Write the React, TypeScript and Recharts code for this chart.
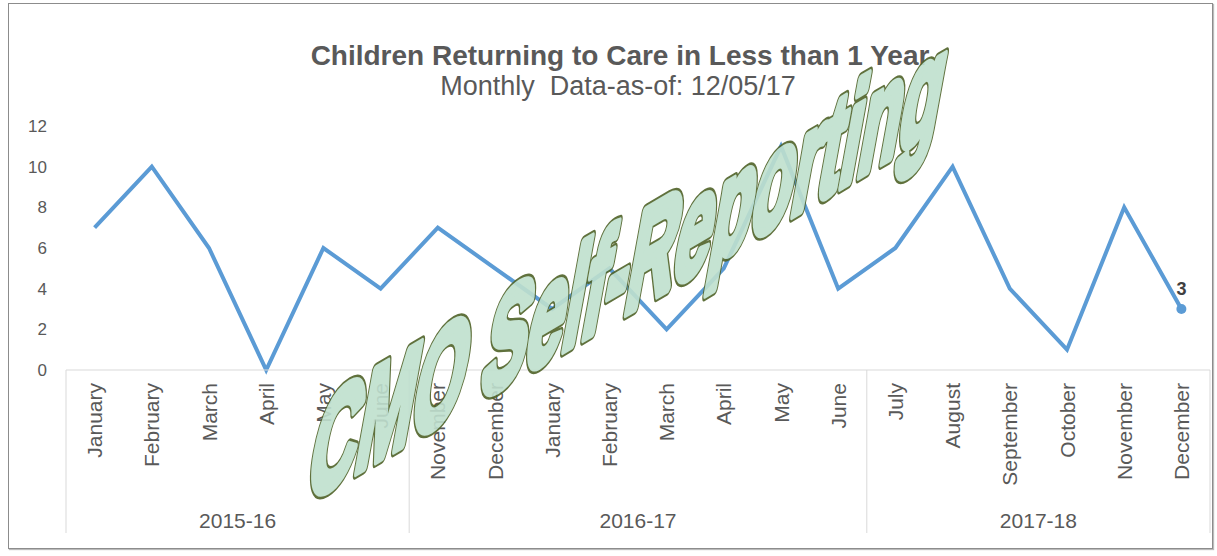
import { LineChart, Line, XAxis, YAxis, LabelList } from 'recharts';

const months = [
  'January', 'February', 'March', 'April', 'May', 'June',
  'November', 'December', 'January', 'February', 'March', 'April', 'May', 'June',
  'July', 'August', 'September', 'October', 'November', 'December',
];
const returns = [7, 10, 6, 0, 6, 4, 7, 5, 3, 5, 2, 5, 11, 4, 6, 10, 4, 1, 8, 3];
const yearLabels = ['2015-16', '2016-17', '2017-18'];
const yearSizes = [6, 8, 6];
const yTicks = [0, 2, 4, 6, 8, 10, 12];

const data = months.map((m, i) => ({ key: `${i}-${m}`, month: m, value: returns[i] }));

// boundaries + group centres for the second (year) axis
const bounds: number[] = [0];
yearSizes.forEach((n) => bounds.push(bounds[bounds.length - 1] + n));
const centres = yearSizes.map((n, i) => bounds[i] + n / 2);
const yearTicks = [...bounds, ...centres].sort((a, b) => a - b);

const FONT = '"Liberation Sans", Arial, sans-serif';
const GREY = '#595959';
const MONTH_AXIS_H = 140;
const WATERMARK = 'CMO Self-Reporting';
const WM_MATRIX = 'matrix(0.665,-0.392,-0.27,1.48,304,503)';

function MonthTick({ x, y, payload }: any) {
  const label = months[payload.index] ?? payload.value;
  return (
    <text
      x={x}
      y={y + 5}
      transform={`rotate(-90, ${x}, ${y + 5})`}
      textAnchor="end"
      dominantBaseline="central"
      fill={GREY}
      fontSize={21}
      fontFamily={FONT}
    >
      {label}
    </text>
  );
}

function YearTick({ x, y, payload }: any) {
  const v = payload.value;
  const gi = centres.indexOf(v);
  if (gi >= 0) {
    return (
      <text x={x} y={y + 10} textAnchor="middle" fill={GREY} fontSize={21} fontFamily={FONT}>
        {yearLabels[gi]}
      </text>
    );
  }
  return <line x1={x} x2={x} y1={y - 8 - MONTH_AXIS_H} y2={y + 15} stroke="#d9d9d9" strokeWidth={1} />;
}

function LastDot({ cx, cy, index }: any) {
  if (index !== returns.length - 1) return null;
  return <circle cx={cx} cy={cy} r={5} fill="#5b9bd5" />;
}

function LastLabel({ x, y, index, value }: any) {
  if (index !== returns.length - 1) return null;
  return (
    <text x={x} y={y - 14} textAnchor="middle" fill="#404040" fontSize={18} fontWeight="bold" fontFamily={FONT}>
      {value}
    </text>
  );
}

export default function App() {
  const nss = { vectorEffect: 'non-scaling-stroke' } as any;
  return (
    <div style={{ position: 'absolute', left: 0, top: 0, width: 1217, height: 556, background: '#fff', fontFamily: FONT }}>
      <div
        style={{
          position: 'absolute', left: 8, top: 3, width: 1203, height: 544,
          border: '1px solid #8c8c8c', boxShadow: '1px 1px 1px #bbb',
        }}
      />
      <div style={{ position: 'absolute', left: 0, top: 0 }}>
        <LineChart width={1217} height={556} data={data} margin={{ top: 126, right: 7, left: 6, bottom: 16 }}>
          <text x={620} y={65} textAnchor="middle" fill={GREY} fontSize={28} fontWeight="bold" fontFamily={FONT}>
            Children Returning to Care in Less than 1 Year
          </text>
          <text x={618} y={95} textAnchor="middle" fill={GREY} fontSize={27} fontFamily={FONT} style={{ whiteSpace: 'pre' }}>
            {'Monthly  Data-as-of: 12/05/17'}
          </text>
          <YAxis
            domain={[0, 12]}
            ticks={yTicks}
            width={60}
            axisLine={false}
            tickLine={false}
            tickMargin={13}
            tick={{ fill: GREY, fontSize: 17, fontFamily: FONT }}
          />
          <XAxis
            dataKey="key"
            scale="band"
            height={MONTH_AXIS_H}
            interval={0}
            tickLine={false}
            axisLine={{ stroke: '#d9d9d9' }}
            tick={<MonthTick />}
          />
          <XAxis
            xAxisId="year"
            type="number"
            dataKey={() => 0}
            domain={[0, 20]}
            ticks={yearTicks}
            interval={0}
            height={30}
            axisLine={false}
            tickLine={false}
            tick={<YearTick />}
          />
          <Line
            type="linear"
            dataKey="value"
            stroke="#5b9bd5"
            strokeWidth={4}
            dot={<LastDot />}
            activeDot={false}
            isAnimationActive={false}
          >
            <LabelList dataKey="value" content={<LastLabel />} />
          </Line>
        </LineChart>
      </div>
      <svg width={1217} height={556} style={{ position: 'absolute', left: 0, top: 0, pointerEvents: 'none' }}>
        <g opacity={0.9}>
          <text
            transform={WM_MATRIX}
            fontSize={100}
            fontWeight="bold"
            fontFamily={FONT}
            fill="#4f6228"
            stroke="#4f6228"
            strokeWidth={12}
            strokeLinejoin="round"
            style={nss}
          >
            {WATERMARK}
          </text>
          <text
            transform={WM_MATRIX}
            fontSize={100}
            fontWeight="bold"
            fontFamily={FONT}
            fill="#bfe0ce"
            stroke="#bfe0ce"
            strokeWidth={8}
            strokeLinejoin="round"
            style={nss}
          >
            {WATERMARK}
          </text>
        </g>
      </svg>
    </div>
  );
}
